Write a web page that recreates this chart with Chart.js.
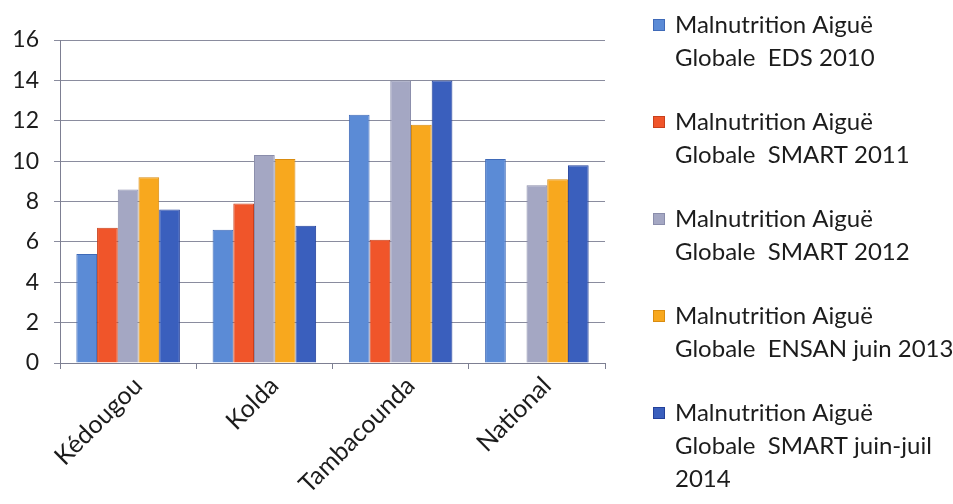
<!DOCTYPE html>
<html>
<head>
<meta charset="utf-8">
<script src="https://cdn.jsdelivr.net/npm/chart.js@4.4.1/dist/chart.umd.min.js"></script>
<style>
    html, body { margin: 0; padding: 0; background: #fff; }
    #wrap { width: 953px; height: 504px; }
</style>
</head>
<body>
<div id="wrap"><canvas id="malChart" width="953" height="504"></canvas></div>
<script>
// Data
const regions = ['Kédougou', 'Kolda', 'Tambacounda', 'National'];
const mag2010 = [5.4, 6.6, 12.3, 10.1];
const mag2011 = [6.7, 7.9, 6.1, null];
const mag2012 = [8.6, 10.3, 14.0, 8.8];
const mag2013 = [9.2, 10.1, 11.8, 9.1];
const mag2014 = [7.6, 6.8, 14.0, 9.8];
const seriesLabels = [
    'Malnutrition Aiguë\nGlobale  EDS 2010',
    'Malnutrition Aiguë\nGlobale  SMART 2011',
    'Malnutrition Aiguë\nGlobale  SMART 2012',
    'Malnutrition Aiguë\nGlobale  ENSAN juin 2013',
    'Malnutrition Aiguë\nGlobale  SMART juin-juil\n2014'
];
const yTicks = [0, 2, 4, 6, 8, 10, 12, 14, 16];

const fills = ['#5b8bd6', '#f0552a', '#a4a7c3', '#f8a81e', '#3a5fbd'];
const edges = ['#3f6ab8', '#c8401c', '#8a8dab', '#d98c10', '#23409a'];
const FONT = 'Lato, "Open Sans", sans-serif';

// Legend drawn by hand so each label can wrap over several lines
const sideLegend = {
    id: 'sideLegend',
    afterDraw(chart) {
        const c = chart.ctx;
        c.save();
        c.font = '24px ' + FONT;
        c.textBaseline = 'middle';
        c.textAlign = 'left';
        chart.data.datasets.forEach((ds, i) => {
            const y0 = 25 + i * 97;
            c.fillStyle = ds.backgroundColor;
            c.fillRect(653, y0 - 6, 12, 12);
            c.strokeStyle = ds.borderColor;
            c.lineWidth = 1;
            c.strokeRect(653.5, y0 - 5.5, 11, 11);
            c.fillStyle = '#1c1c1c';
            ds.label.split('\n').forEach((line, j) => {
                c.fillText(line, 675, y0 + j * 33);
            });
        });
        c.restore();
    }
};

const ctx = document.getElementById('malChart').getContext('2d');
const seriesData = [mag2010, mag2011, mag2012, mag2013, mag2014];

new Chart(ctx, {
    type: 'bar',
    data: {
        labels: regions,
        datasets: seriesData.map((d, i) => ({
            label: seriesLabels[i],
            data: d,
            backgroundColor: fills[i],
            borderColor: edges[i],
            borderWidth: 1,
            categoryPercentage: 0.76,
            barPercentage: 1.0
        }))
    },
    options: {
        responsive: false,
        animation: false,
        layout: { padding: { top: 40, right: 348, left: 0, bottom: 0 } },
        plugins: {
            legend: { display: false },
            tooltip: { enabled: false }
        },
        scales: {
            x: {
                afterFit(scale) { scale.height = 141; },
                grid: {
                    offset: true,
                    drawOnChartArea: false,
                    color: '#7d7f92',
                    tickLength: 6
                },
                border: { color: '#7d7f92' },
                ticks: {
                    color: '#1c1c1c',
                    font: { family: FONT, size: 25 },
                    minRotation: 45,
                    maxRotation: 45,
                    labelOffset: 10,
                    padding: 2
                }
            },
            y: {
                min: 0,
                max: 16,
                afterFit(scale) { scale.width = 60; },
                afterBuildTicks(scale) { scale.ticks = yTicks.map(v => ({ value: v })); },
                grid: {
                    color: '#8a8c9e',
                    tickLength: 6
                },
                border: { color: '#7d7f92' },
                ticks: {
                    color: '#1c1c1c',
                    font: { family: FONT, size: 23 },
                    padding: 15
                }
            }
        }
    },
    plugins: [sideLegend]
});
</script>
</body>
</html>
